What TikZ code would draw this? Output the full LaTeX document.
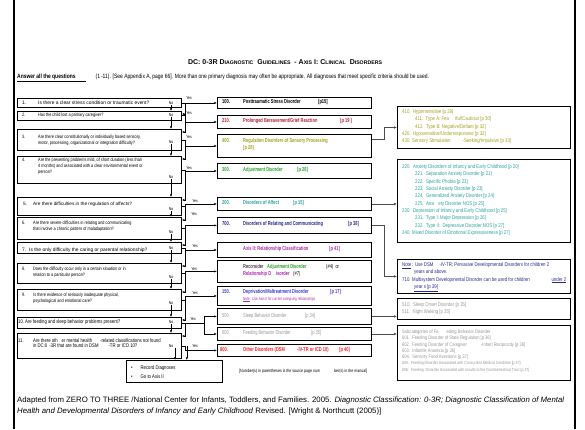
\documentclass[tikz,border=0pt]{standalone}
\usepackage{fontspec}
\setmainfont{Liberation Sans}
\newfontfamily\nfont[FakeStretch=0.8]{Liberation Sans}
\newfontfamily\cfont[FakeStretch=0.7]{Liberation Sans}
\usetikzlibrary{arrows.meta}
\definecolor{olivec}{RGB}{160,160,30}
\definecolor{tealc}{RGB}{40,160,160}
\definecolor{navyc}{RGB}{40,40,140}
\definecolor{darkredc}{RGB}{180,30,50}
\definecolor{greenc}{RGB}{40,160,40}
\definecolor{purplec}{RGB}{170,40,170}
\definecolor{bluec}{RGB}{60,60,210}
\definecolor{redc}{RGB}{250,30,30}
\definecolor{grayc}{RGB}{150,150,150}
\newcommand{\sml}[1]{{\fontsize{5.2}{6}\selectfont #1}}

\begin{document}
\begin{tikzpicture}[x=1pt,y=-1pt]
						\tikzstyle{qbox} = [draw=black,line width=0.8pt,anchor=north west,inner sep=0pt,minimum width=164pt]
						\tikzstyle{dbox} = [draw=black,line width=0.9pt,anchor=north west,inner sep=0pt,minimum width=154pt]
						\tikzstyle{sbox} = [draw=black,line width=0.9pt,anchor=north west,inner sep=0pt,minimum width=173pt]
						\tikzstyle{qtxt} = [anchor=west,inner sep=0pt,align=left,font=\nfont\fontsize{4.8}{5.8}\selectfont]
						\tikzstyle{qtxtw} = [anchor=west,inner sep=0pt,align=left,font=\fontsize{4.9}{5.8}\selectfont]
						\tikzstyle{dtxt} = [anchor=west,inner sep=0pt,align=left,font=\cfont\bfseries\fontsize{5.7}{7}\selectfont]
						\tikzstyle{stxt} = [anchor=north west,inner sep=0pt,align=left,font=\nfont\fontsize{5.4}{7.3}\selectfont]
						\tikzstyle{lbl} = [inner sep=0pt,font=\nfont\fontsize{4.2}{4.5}\selectfont]
						\tikzstyle{edge} = [-{Latex[length=2.6pt,width=2.2pt]},line width=0.5pt]
						\tikzstyle{gedge} = [-{Latex[length=2.8pt,width=2.4pt]},line width=0.8pt,draw=black!70]
						\useasboundingbox (0,0) rectangle (585,429);
						\draw[line width=2.5pt] (14,0) -- (14,429);
						\draw[line width=2.5pt] (575,0) -- (575,429);
						% heading
						\node[font=\bfseries\fontsize{7}{8}\selectfont,inner sep=0pt] (title) at (285,62) {DC: 0-3R D\sml{IAGNOSTIC}\ \ G\sml{UIDELINES}\ \ - A\sml{XIS} I: C\sml{LINICAL}\ \ D\sml{ISORDERS}};
						\node[anchor=west,inner sep=0pt,font=\nfont\fontsize{6.2}{6.5}\selectfont] (intro) at (17,78) {\underline{\textbf{Answer all the questions}\hspace{10pt}}\hspace{10pt}(1\,-11). [See Appendix A, page 66]. More than one primary diagnosis may often be appropriate. All diagnoses that meet specific criteria should be used.};
						% questions
						\node[qbox,minimum height=9pt] (q1) at (17,98) {};
						\node[qbox,minimum height=8.5pt] (q2) at (17,111) {};
						\node[qbox,minimum height=21pt] (q3) at (17,129) {};
						\node[qbox,minimum height=27pt] (q4) at (17,156) {};
						\node[qbox,minimum height=18pt] (q5) at (17,197) {};
						\node[qbox,minimum height=22pt] (q6) at (17,217) {};
						\node[qbox,minimum height=11pt] (q7) at (17,242) {};
						\node[qbox,minimum height=20pt] (q8) at (17,263) {};
						\node[qbox,minimum height=21pt] (q9) at (17,289) {};
						\node[qbox,minimum height=11pt] (q10) at (17,317) {};
						\node[qbox,minimum height=25pt] (q11) at (17,333) {};
						\node[qbox,minimum width=96pt,minimum height=22pt] (rec) at (126,360) {};
						\node[qtxtw] (t1) at (22,102.5) {\makebox[16pt][l]{1.}Is there a clear stress condition or traumatic event?};
						\node[qtxt] (t2) at (22,115) {\makebox[16pt][l]{2.}Has the child lost a primary caregiver?};
						\node[qtxt] (t3) at (22,140) {\makebox[16pt][l]{3.}Are there clear constitutionally or individually based sensory,\\\hspace*{16pt}motor, processing, organizational or integration difficulty?};
						\node[qtxt] (t4) at (22,166.5) {\makebox[16pt][l]{4.}Are the presenting problems mild, of short duration (less than\\\hspace*{16pt}4 months) and associated with a clear environmental event or\\\hspace*{16pt}person?};
						\node[qtxtw,font=\fontsize{4.7}{5.8}\selectfont] (t5) at (23,204) {\makebox[10pt][l]{5.}Are there difficulties in the regulation of affects?};
						\node[qtxt] (t6) at (22,226) {\makebox[11pt][l]{6.}Are there severe difficulties in relating and communicating\\\hspace*{11pt}that involve a chronic pattern of maladaptation?};
						\node[qtxtw] (t7) at (22,250) {\makebox[7pt][l]{7.}Is the only difficulty the caring or parental relationship?};
						\node[qtxt] (t8) at (22,272.5) {\makebox[11pt][l]{8.}Does the difficulty occur only in a certain situation or in\\\hspace*{11pt}relation to a particular person?};
						\node[qtxt] (t9) at (22,298) {\makebox[11pt][l]{9.}Is there evidence of seriously inadequate physical,\\\hspace*{11pt}psychological and emotional care?};
						\node[qtxt,font=\nfont\fontsize{5.3}{5.8}\selectfont] (t10) at (18,322.5) {\makebox[7pt][l]{10.}Are feeding and sleep behavior problems present?};
						\node[qtxt,font=\nfont\fontsize{5.3}{5.8}\selectfont] (t11) at (18,343) {\makebox[15pt][l]{11.}Are there oth\hspace{4pt}er mental health\hspace{8pt}-related classifications not found\\\hspace*{15pt}in DC:0\hspace{2pt}-3R that are found in DSM\hspace{10pt}-TR or ICD 10?};
						\node[qtxt,font=\nfont\fontsize{5.3}{9}\selectfont] (trec) at (131,372) {\textbullet\hspace{8pt}Record Diagnoses\\\textbullet\hspace{8pt}Go to Axis II};
						% No labels
						\node[lbl] (no1) at (171,103) {No};
						\node[lbl] (no2) at (171,115) {No};
						\node[lbl] (no3) at (171,142) {No};
						\node[lbl] (no4) at (171,177) {No};
						\node[lbl] (no5) at (171,209) {No};
						\node[lbl] (no6) at (171,232) {No};
						\node[lbl] (no7) at (171,248.5) {No};
						\node[lbl] (no8) at (171,277) {No};
						\node[lbl] (no9) at (171,303) {No};
						\node[lbl] (no10) at (171,322.5) {No};
						\node[lbl] (no11) at (171,346) {No};
						\draw[edge] (no1.south) -- (no1.south |- q2.north);
						\draw[edge] (no2.south) -- (no2.south |- q3.north);
						\draw[edge] (no3.south) -- (no3.south |- q4.north);
						\draw[edge] (no4.south) -- (no4.south |- q5.north);
						\draw[edge] (no5.south) -- (no5.south |- q6.north);
						\draw[edge] (no6.south) -- (no6.south |- q7.north);
						\draw[edge] (no7.south) -- (no7.south |- q8.north);
						\draw[edge] (no8.south) -- (no8.south |- q9.north);
						\draw[edge] (no9.south) -- (no9.south |- q10.north);
						\draw[edge] (no10.south) -- (no10.south |- q11.north);
						\draw[edge] ([xshift=4pt]no11.south) -- ([xshift=4pt]no11.south |- rec.north);
						% diagnoses
						\node[dbox,minimum height=11pt] (d100) at (217,97) {};
						\node[dbox,minimum height=13pt] (d210) at (217,115) {};
						\node[dbox,minimum height=23pt] (d400) at (217,134) {};
						\node[dbox,minimum height=15pt] (d300) at (217,163) {};
						\node[dbox,minimum height=13pt] (d200) at (217,197) {};
						\node[dbox,minimum height=16pt] (d700) at (217,217) {};
						\node[dbox,minimum height=15pt] (dax) at (217,242) {};
						\node[dbox,minimum height=22pt] (drc) at (217,260) {};
						\node[dbox,minimum height=19pt] (d150) at (217,286) {};
						\node[dbox,minimum height=16pt] (d500) at (217,308) {};
						\node[dbox,minimum height=13pt] (d600) at (217,327) {};
						\node[dbox,minimum height=12pt] (d800) at (217,344) {};
						\node[dtxt] (e100) at (222,102.5) {\makebox[21pt][l]{100.}\makebox[75pt][l]{Posttraumatic Stress Disorder}[p15]};
						\node[dtxt,text=darkredc] (e210) at (222,121.5) {\makebox[21pt][l]{210.}\makebox[97pt][l]{Prolonged Bereavement/Grief Reaction}[p 19 ]};
						\node[dtxt,text=olivec] (e400) at (222,144.5) {\makebox[21pt][l]{400.}Regulation Disorders of Sensory Processing\\\hspace*{21pt}[p 28]};
						\node[dtxt,text=greenc] (e300) at (222,170.5) {\makebox[21pt][l]{300.}\makebox[54pt][l]{Adjustment Disorder}[p 28]};
						\node[dtxt,text=tealc] (e200) at (222,203.5) {\makebox[21pt][l]{200.}\makebox[50pt][l]{Disorders of Affect}[p 15]};
						\node[dtxt,text=navyc] (e700) at (222,224) {\makebox[21pt][l]{700.}\makebox[105pt][l]{Disorders of Relating and Communicating}[p 38]};
						\node[dtxt,text=purplec] (eax) at (243,249.5) {\makebox[86pt][l]{Axis II: Relationship Classification}[p 41]};
						\node[dtxt,font=\cfont\fontsize{5.7}{7}\selectfont] (erc) at (243,270.5) {\makebox[24pt][l]{Reconsider}\makebox[59pt][l]{\textbf{\textcolor{greenc}{Adjustment Disorder}}}(\#4)\ \ or\\\makebox[50pt][l]{\textbf{\textcolor{purplec}{Relationship D\hspace{5pt}isorder}}}(\#7)};
						\node[dtxt,text=bluec] (e150) at (222,292.5) {\makebox[21pt][l]{150.}\makebox[87pt][l]{Deprivation/Maltreatment Disorder}[p 17]};
						\node[dtxt,text=purplec,font=\cfont\fontsize{4.4}{4.5}\selectfont] (n150) at (243,299.5) {\underline{Note}\,: Use Axis II for current caregiving relationships};
						\node[dtxt,text=grayc,font=\cfont\fontsize{5.7}{7}\selectfont] (e500) at (222,316) {\makebox[21pt][l]{500.}\makebox[62pt][l]{Sleep Behavior Disorder}[p 34]};
						\node[dtxt,text=grayc,font=\cfont\fontsize{5.7}{7}\selectfont] (e600) at (222,333.5) {\makebox[21pt][l]{600.}\makebox[68pt][l]{Feeding Behavior Disorder}[p 35]};
						\node[dtxt,text=redc] (e800) at (220,350) {\makebox[23pt][l]{800.}\makebox[54pt][l]{Other Disorders (DSM}\makebox[42pt][l]{-IV-TR or ICD 10)}[p 40]};
						% yes paths
						\node[lbl] (y1) at (189,98) {Yes};
						\node[lbl] (y2) at (189,113) {Yes};
						\node[lbl] (y3) at (189,137) {Yes};
						\node[lbl] (y4) at (189,168) {Yes};
						\node[lbl] (y5) at (195,201) {Yes};
						\node[lbl] (y6) at (194,214) {Yes};
						\node[lbl] (y7) at (195,246.5) {Yes};
						\node[lbl] (y8) at (194,269) {Yes};
						\node[lbl] (y9) at (195,293) {Yes};
						\node[lbl] (y10) at (193,319) {Yes};
						\node[lbl] (y11) at (195,346) {Yes};
						\draw[edge] (q1.east) -- ++(3,0) |- (d100.west);
						\draw[edge] (q2.east) -- ++(3,0) |- (d210.west);
						\draw[edge] (q3.east) -- ++(3,0) |- (d400.west);
						\draw[edge] (q4.east) -- ++(3,0) |- (d300.west);
						\draw[edge] (q5.east) -- ++(3,0) |- (d200.west);
						\draw[edge] (q6.east) -- ++(3,0) |- (d700.west);
						\draw[edge] (q7.east) -- ++(3,0) |- (dax.west);
						\draw[edge] (q8.east) -- ++(3,0) |- (drc.west);
						\draw[edge] (q9.east) -- ++(3,0) |- (d150.west);
						\draw (q10.east) -- ++(22,0) coordinate (b10);
						\draw[edge] (b10) |- (d500.west);
						\draw[edge] (b10) |- (d600.west);
						\draw[edge] (q11.east) -- ++(3,0) |- (d800.west);
						% back to the next question
						\draw[edge] ([xshift=3pt]q1.east) |- ([yshift=-3pt]q2.north east);
						\draw[edge] ([xshift=3pt]q2.east) |- ([yshift=-3pt]q3.north east);
						\draw[edge] ([xshift=3pt]q3.east) |- ([yshift=-3pt]q4.north east);
						\draw[edge] ([xshift=3pt]q4.east) |- ([yshift=-3pt]q5.north east);
						\draw[edge] ([xshift=3pt]q5.east) |- ([yshift=-3pt]q6.north east);
						\draw[edge] ([xshift=3pt]q6.east) |- ([yshift=-3pt]q7.north east);
						\draw[edge] ([xshift=3pt]q7.east) |- ([yshift=-3pt]q8.north east);
						\draw[edge] ([xshift=3pt]q8.east) |- ([yshift=-3pt]q9.north east);
						\draw[edge] ([xshift=3pt]q9.east) |- ([yshift=-3pt]q10.north east);
						\draw[edge] ([xshift=3pt]q10.east) |- ([yshift=-3pt]q11.north east);
						\draw[edge] ([xshift=5pt]q11.east) -- ([xshift=5pt]q11.east |- rec.north);
						% sub-classifications
						\node[sbox,minimum height=42pt] (s410) at (397,106) {};
						\node[sbox,minimum height=83pt] (s220) at (397,159) {};
						\node[sbox,minimum height=34pt] (snote) at (397,259) {};
						\node[sbox,minimum height=21pt] (s510) at (397,298) {};
						\node[sbox,minimum height=55pt] (s600) at (397,325) {};
						\node[stxt,text=olivec] (f410) at (402,109.5) {410.\ \ Hypersensitive [p 29]\\\hspace*{13pt}411.\ \ Type A: Fea\hspace{6pt}rful/Cautious [p 30]\\\hspace*{13pt}412.\ \ Type B: Negative/Defiant [p 32]\\420.\ \ Hyposensitive/Underresponsive [p 32]\\430. Sensory Stimulation\hspace{12pt}-Seeking/Impulsive [p 33]};
						\node[stxt,text=tealc] (f220) at (402,164.5) {220.\ \ Anxiety Disorders of Infancy and Early Childhood [p 20]\\\hspace*{13pt}221.\ \ Separation Anxiety Disorder [p 21]\\\hspace*{13pt}222.\ \ Specific Phobia [p 23]\\\hspace*{13pt}223.\ \ Social Anxiety Disorder [p 23]\\\hspace*{13pt}224.\ \ Generalized Anxiety Disorder [p 24]\\\hspace*{13pt}225.\ \ Anxi\hspace{4pt}ety Disorder NOS [p 25]\\230.\ \ Depression of Infancy and Early Childhood [p 25]\\\hspace*{13pt}231.\ \ Type I: Major Depression [p 26]\\\hspace*{13pt}232.\ \ Type II:\ \ Depressive Disorder NOS [p 27]\\240. Mixed Disorder of Emotional Expressiveness [p 27]};
						\node[stxt,text=navyc] (fnote) at (402,262.5) {\underline{Note}\,: Use DSM\hspace{6pt}-IV-TR; Pervasive Developmental Disorders for children 2\\\hspace*{12pt}years and above.\\\makebox[164pt][l]{710. Multisystem Developmental Disorder can be used for children\hfill\underline{under 2}}\\\hspace*{12pt}\underline{year s [p 39]}};
						\node[stxt,text=grayc,font=\nfont\fontsize{5.4}{7}\selectfont] (f510) at (402,302.5) {510.\ \ Sleep Onset Disorder [p 35]\\511.\ \ Night Waking [p 35]};
						\node[stxt,text=grayc,font=\nfont\fontsize{5.1}{6.3}\selectfont] (f600) at (402,329.5) {Subcategories of Fe\hspace{8pt}eding Behavior Disorder\\601.\ \ Feeding Disorder of State Regulation [p 36]\\602.\ \ Feeding Disorder of Caregiver\hspace{14pt}-Infant Reciprocity [p 36]\\603.\ \ Infantile Anorexia [p 36]\\604.\ \ Sensory Food Aversions [p 37]\\{\fontsize{4.4}{6.3}\selectfont 605.\ \ Feeding Disorder Associated with Concurrent Medical Condition [p 37]}\\{\fontsize{4.4}{6.3}\selectfont 606.\ \ Feeding\ \ Disorder Associated with Insults to the Gastrointestinal Tract [p 37]}};
						\draw[gedge] ([yshift=7pt]d400.east) -- ++(12,0) |- (s410.west);
						\draw[gedge] (d200.east) -- (d200.east -| s220.west);
						\draw[gedge] (d700.east) -- ++(12,0) |- (snote.west);
						\draw[gedge] (d500.east) -- (d500.east -| s510.west);
						\draw[gedge] (d600.east) -- (d600.east -| s600.west);
						% notes
						\node[anchor=west,inner sep=0pt,font=\nfont\fontsize{4.5}{5}\selectfont] (pages) at (239,371) {[Number(s) in parentheses is the source page num\hspace{14pt}ber(s) in the manual]};
						\node[anchor=west,inner sep=0pt,align=left,font=\fontsize{7.8}{10.5}\selectfont] (foot) at (17,406) {Adapted from ZERO TO THREE /National Center for Infants, Toddlers, and Families. 2005. \textit{Diagnostic Classification: 0-3R; Diagnostic Classification of Mental}\\\textit{Health and Developmental Disorders of Infancy and Early Childhood} Revised. [Wright \& Northcutt (2005)]};
\end{tikzpicture}
\end{document}
